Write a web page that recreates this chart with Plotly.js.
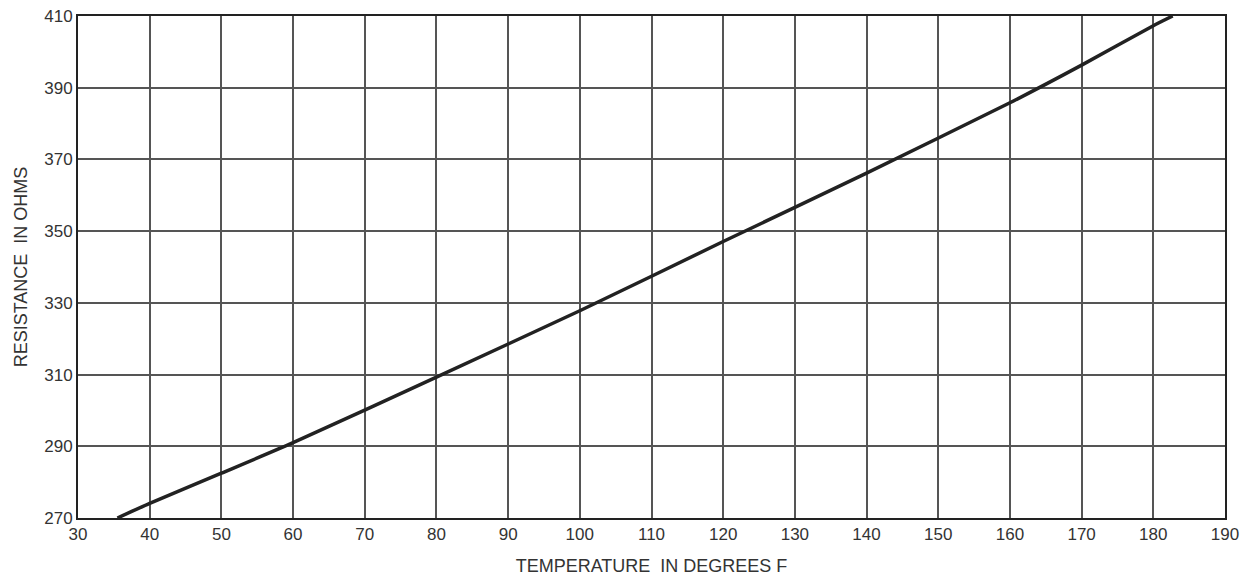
<!DOCTYPE html>
<html>
<head>
<meta charset="utf-8">
<script src="https://cdn.plot.ly/plotly-3.0.1.min.js"></script>
<style>
html,body{margin:0;padding:0;background:#fff;}
#chart{width:1256px;height:581px;}
</style>
</head>
<body>
<div id="chart"></div>
<script>
// Temperature (deg F) vs resistance (ohms)
const temperatureF = [35.5, 40, 50, 60, 80, 100, 120, 140, 160, 170, 180, 182.7];
const resistanceOhms = [270, 274.1, 282.5, 291, 309.3, 327.8, 347.1, 366.2, 385.8, 396.3, 407.3, 410];

const xTickValues = [30, 40, 50, 60, 70, 80, 90, 100, 110, 120, 130, 140, 150, 160, 170, 180, 190];
const yTickValues = [270, 290, 310, 330, 350, 370, 390, 410];

const xTitle = "TEMPERATURE&#160;&#160;IN DEGREES F";
const yTitle = "RESISTANCE&#160;&#160;IN OHMS";

const trace = {
  x: temperatureF,
  y: resistanceOhms,
  type: "scatter",
  mode: "lines",
  line: {color: "#222", width: 3.5, shape: "spline", smoothing: 0.6},
  hoverinfo: "skip",
  showlegend: false
};

const tickFont = {family: "Liberation Sans, Arial, sans-serif", size: 17, color: "#333"};
const titleFont = {family: "Liberation Sans, Arial, sans-serif", size: 18, color: "#333"};

const layout = {
  width: 1256,
  height: 581,
  margin: {l: 78, r: 31, t: 16, b: 63, pad: 0},
  paper_bgcolor: "#fff",
  plot_bgcolor: "#fff",
  showlegend: false,
  xaxis: {
    range: [30, 190],
    tickmode: "array",
    tickvals: xTickValues,
    ticktext: xTickValues.map(String),
    ticks: "",
    tickfont: tickFont,
    showgrid: true,
    gridcolor: "#555",
    gridwidth: 2,
    zeroline: false,
    showline: true,
    linecolor: "#222",
    linewidth: 2,
    mirror: true,
    fixedrange: true,
    title: {text: xTitle, font: titleFont, standoff: 16}
  },
  yaxis: {
    range: [270, 410],
    tickmode: "array",
    tickvals: yTickValues,
    ticktext: yTickValues.map(String),
    ticks: "",
    tickfont: tickFont,
    showgrid: true,
    gridcolor: "#555",
    gridwidth: 2,
    zeroline: false,
    showline: true,
    linecolor: "#222",
    linewidth: 2,
    mirror: true,
    fixedrange: true,
    title: {text: yTitle, font: titleFont, standoff: 12}
  }
};

Plotly.newPlot("chart", [trace], layout, {displayModeBar: false, staticPlot: true});
</script>
</body>
</html>
